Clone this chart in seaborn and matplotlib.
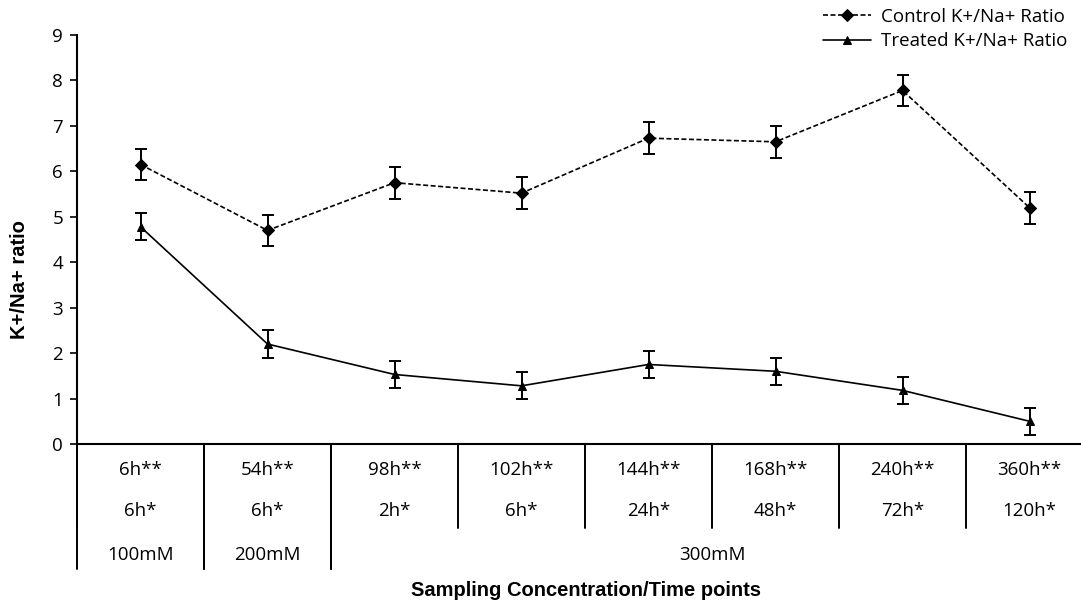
import seaborn as sns
import matplotlib.pyplot as plt
import pandas as pd

# Values
time_long = ['6h**', '54h**', '98h**', '102h**', '144h**', '168h**', '240h**', '360h**']
time_short = ['6h*', '6h*', '2h*', '6h*', '24h*', '48h*', '72h*', '120h*']
conc_labels = ['100mM', '200mM', '300mM']
conc_spans = [(0, 1), (1, 2), (2, 8)]  # category index ranges for each concentration

control = [6.15, 4.70, 5.75, 5.52, 6.73, 6.65, 7.78, 5.20]
control_err = [0.35, 0.35, 0.35, 0.35, 0.35, 0.35, 0.35, 0.35]
treated = [4.78, 2.20, 1.53, 1.28, 1.75, 1.60, 1.18, 0.50]
treated_err = [0.30, 0.30, 0.30, 0.30, 0.30, 0.30, 0.30, 0.30]

df = pd.DataFrame({
    'pos': list(range(len(time_long))) * 2,
    'ratio': control + treated,
    'err': control_err + treated_err,
    'series': ['Control K+/Na+ Ratio'] * 8 + ['Treated K+/Na+ Ratio'] * 8,
})

sns.set_style('white', {'text.color': 'black', 'axes.labelcolor': 'black',
                        'xtick.color': 'black', 'ytick.color': 'black'})
plt.rcParams['font.family'] = ['Open Sans', 'DejaVu Sans']
fs = 13.5

fig = plt.figure(figsize=(10.81, 6.03), dpi=100)
ax = fig.add_axes([77 / 1081, 159 / 603, 1016 / 1081, 409 / 603])

sns.lineplot(data=df, x='pos', y='ratio', hue='series', style='series',
             markers={'Control K+/Na+ Ratio': 'D', 'Treated K+/Na+ Ratio': '^'},
             dashes={'Control K+/Na+ Ratio': (3, 1.5), 'Treated K+/Na+ Ratio': ''},
             palette=['black', 'black'], markersize=6, linewidth=1.2,
             markeredgecolor='black', ax=ax)

for name, sub in df.groupby('series'):
    ax.errorbar(sub['pos'], sub['ratio'], yerr=sub['err'], fmt='none',
                ecolor='black', elinewidth=1.4, capsize=4, capthick=1.4)

ax.set_xlim(-0.5, 7.5)
ax.set_ylim(0, 9)
ax.set_yticks(range(10))
ax.tick_params(axis='y', labelsize=fs, length=5, width=1.2, direction='out', left=True, pad=5,
               colors='black')
ax.set_xticks([])
for side in ['top', 'right']:
    ax.spines[side].set_visible(False)
for side in ['left', 'bottom']:
    ax.spines[side].set_linewidth(1.5)
    ax.spines[side].set_color('black')

# Multi-level category table below the axis
trans = ax.get_xaxis_transform()
px = 1 / 409.0
for i, (lab1, lab2) in enumerate(zip(time_long, time_short)):
    ax.text(i, -26 * px, lab1, transform=trans, ha='center', va='center', fontsize=fs, color='black')
    ax.text(i, -67 * px, lab2, transform=trans, ha='center', va='center', fontsize=fs, color='black')
for b in range(len(time_long) + 1):
    ax.plot([b - 0.5, b - 0.5], [0, -84 * px], transform=trans, color='black',
            lw=1.4, clip_on=False)
for lab, (s, e) in zip(conc_labels, conc_spans):
    ax.text((s + e - 1) / 2, -111 * px, lab, transform=trans, ha='center', va='center',
            fontsize=fs, color='black')
    for b in (s, e):
        ax.plot([b - 0.5, b - 0.5], [0, -125 * px], transform=trans, color='black',
                lw=1.4, clip_on=False)

ax.set_xlabel('')
ax.set_ylabel('K+/Na+ ratio', fontsize=14.5, fontweight='bold', color='black',
              family=['Liberation Sans', 'DejaVu Sans'])
ax.yaxis.set_label_coords((29 - 77) / 1016, (444 - 280) / 409)
fig.text(586 / 1081, 1 - 591 / 603, 'Sampling Concentration/Time points', ha='center',
         va='center', fontsize=14.5, fontweight='bold', color='black',
         family=['Liberation Sans', 'DejaVu Sans'])

leg = ax.legend(loc='upper left', bbox_to_anchor=(815 / 1081, 1.0), bbox_transform=fig.transFigure,
                frameon=False, fontsize=fs, handlelength=2.6, handletextpad=0.5,
                labelspacing=0.35, borderaxespad=0.0)
for t in leg.get_texts():
    t.set_color('black')

fig.savefig('out.png', dpi=100)
